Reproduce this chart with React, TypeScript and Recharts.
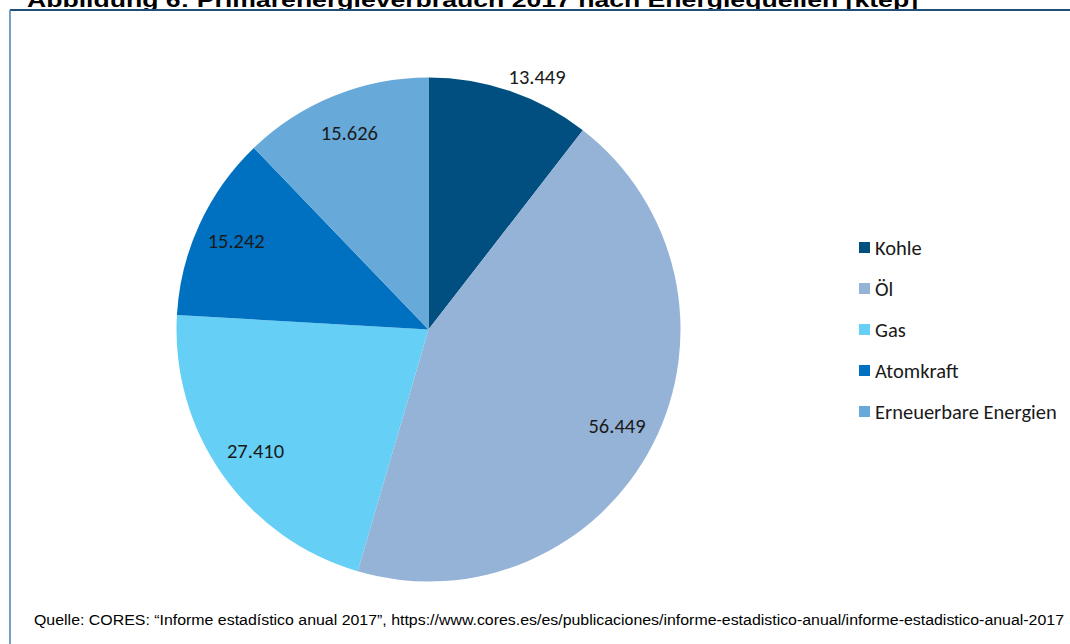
import React from 'react';
import { PieChart, Pie, Cell, Legend } from 'recharts';

const sources = ['Kohle', 'Öl', 'Gas', 'Atomkraft', 'Erneuerbare Energien'];
const values = [13449, 56449, 27410, 15242, 15626];
const valueLabels = ['13.449', '56.449', '27.410', '15.242', '15.626'];
const COLORS = ['#004f80', '#95b3d7', '#66cff6', '#0070c0', '#67a9d9'];

const title = 'Abbildung 6: Primärenergieverbrauch 2017 nach Energiequellen [ktep]';
const source =
    'Quelle: CORES: “Informe estadístico anual 2017”, https://www.cores.es/es/publicaciones/informe-estadistico-anual/informe-estadistico-anual-2017';

const data = sources.map((name, i) => ({ name, value: values[i], label: valueLabels[i] }));

const LABEL_FONT = 'Carlito, Calibri, "Open Sans", sans-serif';

const RADIAN = Math.PI / 180;

// label sits inside the slice, except the small first slice which excel pushed outside
const renderLabel = (props: any) => {
    const { cx, cy, midAngle, outerRadius, index } = props;
    const factor = index === 0 ? 1.09 : 0.84;
    const angle = index === 0 ? midAngle - 4.4 : midAngle;
    const r = outerRadius * factor;
    const x = cx + r * Math.cos(-angle * RADIAN);
    const y = cy + r * Math.sin(-angle * RADIAN);
    return (
        <text x={x} y={y} fill="#1a1a1a" textAnchor="middle" dominantBaseline="central" fontSize={20.5} fontFamily={LABEL_FONT}>
            {data[index].label}
        </text>
    );
};

const LegendContent = () => (
    <div style={{ fontFamily: LABEL_FONT, fontSize: 20.5, color: '#1a1a1a' }}>
        {data.map((d, i) => (
            <div key={d.name} style={{ display: 'flex', alignItems: 'center', height: 41 }}>
                <span style={{ width: 11, height: 11, background: COLORS[i], marginRight: 5, display: 'inline-block' }} />
                <span>{d.name}</span>
            </div>
        ))}
    </div>
);

const App = () => {
    return (
        <div style={{ position: 'fixed', left: 0, top: 0, width: 1070, height: 644, background: '#fff', overflow: 'hidden' }}>
            <div style={{ position: 'absolute', left: 0, top: 0 }}>
                <PieChart width={1070} height={644} margin={{ top: 0, right: 0, bottom: 0, left: 0 }}>
                    <Pie
                        data={data}
                        dataKey="value"
                        nameKey="name"
                        cx={428.5}
                        cy={329.5}
                        outerRadius={252}
                        startAngle={90}
                        endAngle={-270}
                        stroke="none"
                        label={renderLabel}
                        labelLine={false}
                        isAnimationActive={false}
                    >
                        {data.map((entry, index) => (
                            <Cell key={`cell-${index}`} fill={COLORS[index % COLORS.length]} />
                        ))}
                    </Pie>
                    <Legend
                        layout="vertical"
                        content={<LegendContent />}
                        wrapperStyle={{ left: 859, top: 227, width: 210 }}
                    />
                </PieChart>
            </div>
            <svg width={1070} height={644} style={{ position: 'absolute', left: 0, top: 0, zIndex: 5, pointerEvents: 'none' }}>
                <text x={27} y={6.5} fontFamily="Arial, 'Liberation Sans', sans-serif" fontWeight="bold" fontSize={21}
                    textLength={891} lengthAdjust="spacingAndGlyphs" fill="#000">
                    {title}
                </text>
                <line x1={10} y1={10} x2={1070} y2={10} stroke="#1f4e79" strokeWidth={2} />
                <line x1={10} y1={10} x2={10} y2={644} stroke="#4a7fb0" strokeWidth={1.5} />
                <text x={34} y={625} fontFamily="Arial, 'Liberation Sans', sans-serif" fontSize={14}
                    textLength={1030} lengthAdjust="spacingAndGlyphs" fill="#000">
                    {source}
                </text>
            </svg>
        </div>
    );
};

export default App;
